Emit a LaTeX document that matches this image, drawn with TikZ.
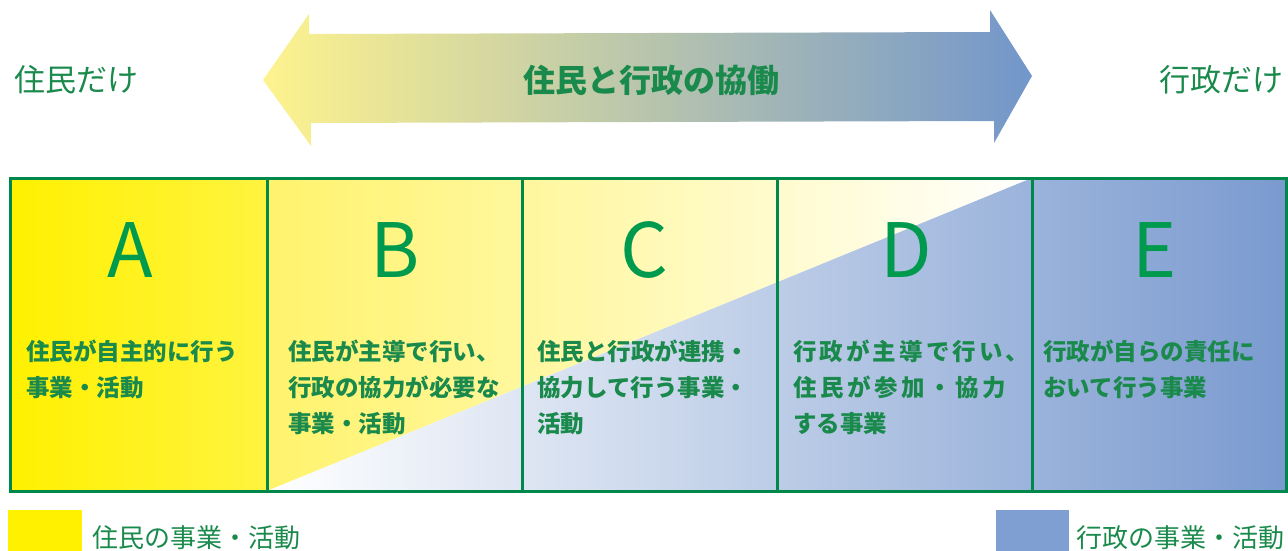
\documentclass[tikz,border=0pt]{standalone}
\usepackage{fontspec}
\newfontfamily\jp{Noto Sans CJK JP}
\definecolor{grn}{HTML}{00884A}
\definecolor{txtg}{HTML}{1A8A4C}
\definecolor{ltr}{HTML}{009A4E}
\definecolor{yel}{HTML}{FFF100}
\definecolor{yelb}{HTML}{FFF340}
\definecolor{yelc}{HTML}{FFF36C}
\definecolor{blu}{HTML}{7A9ACF}
\definecolor{legb}{HTML}{7F9ED2}
\definecolor{arrl}{HTML}{FEF38E}
\definecolor{arrr}{HTML}{7296CB}
\begin{document}
\begin{tikzpicture}[x=1pt,y=-1pt,
  thin/.style={anchor=west,inner sep=0pt,text=txtg,font=\jp\fontsize{31}{31}\selectfont},
  title/.style={inner sep=0pt,text=txtg,font=\jp\bfseries\fontsize{32}{32}\selectfont},
  letter/.style={inner sep=0pt,text=ltr,font=\jp\fontsize{75}{75}\selectfont},
  desc/.style={anchor=north west,inner sep=0pt,align=left,text=txtg,font=\jp\bfseries\fontsize{23.5}{36}\selectfont},
  legtext/.style={anchor=west,inner sep=0pt,text=txtg,font=\jp\fontsize{26}{26}\selectfont},
  gridline/.style={draw=grn,line width=3pt}]
\useasboundingbox (0,0) rectangle (1288,551);
% big double arrow
\shade[left color=arrl,right color=arrr]
  (263,80) -- (309,14) -- (309,34) -- (990,32) -- (990,10) -- (1032,76)
  -- (994,143) -- (994,121) -- (311,123) -- (311,146) -- cycle;
\node[title] (mid) at (651,80) {住民と行政の協働};
\node[thin] (left) at (14,80) {住民だけ};
\node[thin,anchor=east] (right) at (1284,80) {行政だけ};
% fills
\shade[left color=yel,right color=yelb] (10,178) rectangle (267,491);
\shade[left color=yelc,right color=white] (267,178) -- (1032,178) -- (267,491) -- cycle;
\shade[left color=white,right color=blu] (267,491) -- (1032,178) -- (1287,178) -- (1287,491) -- cycle;
% grid
\draw[gridline] (10,178) rectangle (1286.5,491);
\foreach \x in {267,522,777,1032} \draw[gridline] (\x,178) -- (\x,491);
% letters
\node[letter] (la) at (130,250) {A};
\node[letter] (lb) at (395,250) {B};
\node[letter] (lc) at (644,250) {C};
\node[letter] (ld) at (906,250) {D};
\node[letter] (le) at (1155,250) {E};
% descriptions
\node[desc] (da) at (26,340) {住民が自主的に行う\\事業・活動};
\node[desc] (db) at (288,340) {住民が主導で行い、\\行政の協力が必要な\\事業・活動};
\node[desc] (dc) at (537,340) {住民と行政が連携・\\協力して行う事業・\\活動};
\node[desc] (dd) at (793,340) {\makebox[236pt][s]{行\hfil 政\hfil が\hfil 主\hfil 導\hfil で\hfil 行\hfil い\hfil 、}\\\makebox[213pt][s]{住\hfil 民\hfil が\hfil 参\hfil 加\hfil ・\hfil 協\hfil 力}\\する事業};
\node[desc] (de) at (1043,340) {行政が自らの責任に\\おいて行う事業};
% legend
\fill[yel] (8,510) rectangle (82,551);
\node[legtext] (ly) at (92,538) {住民の事業・活動};
\fill[legb] (996,510) rectangle (1069,551);
\node[legtext] (lbk) at (1076,538) {行政の事業・活動};
\end{tikzpicture}
\end{document}
